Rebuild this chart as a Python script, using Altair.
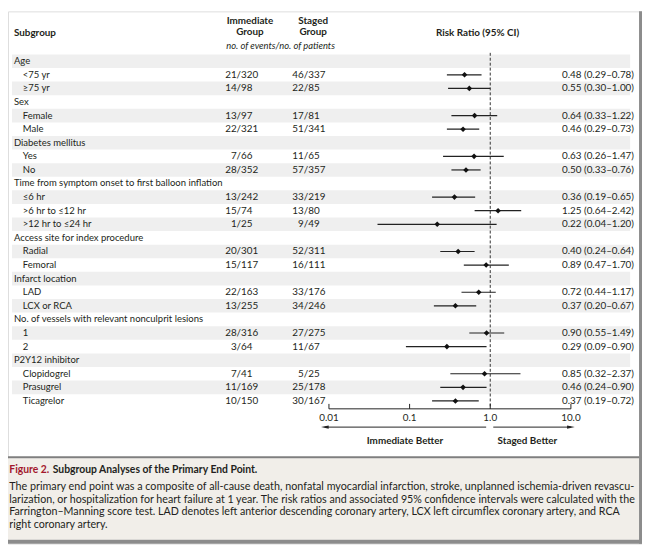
import altair as alt
import pandas as pd

# ---------------- data ----------------
groups = ["Age", "Sex", "Diabetes mellitus",
          "Time from symptom onset to first balloon inflation",
          "Access site for index procedure", "Infarct location",
          "No. of vessels with relevant nonculprit lesions", "P2Y12 inhibitor"]
group_sizes = [2, 2, 2, 3, 2, 2, 2, 3]
items = ["<75 yr", "≥75 yr", "Female", "Male", "Yes", "No",
         "≤6 hr", ">6 hr to ≤12 hr", ">12 hr to ≤24 hr",
         "Radial", "Femoral", "LAD", "LCX or RCA", "1", "2",
         "Clopidogrel", "Prasugrel", "Ticagrelor"]
imm_ev = [21, 14, 13, 22, 7, 28, 13, 15, 1, 20, 15, 22, 13, 28, 3, 7, 11, 10]
imm_n = [320, 98, 97, 321, 66, 352, 242, 74, 25, 301, 117, 163, 255, 316, 64, 41, 169, 150]
stg_ev = [46, 22, 17, 51, 11, 57, 33, 13, 9, 52, 16, 33, 34, 27, 11, 5, 25, 30]
stg_n = [337, 85, 81, 341, 65, 357, 219, 80, 49, 311, 111, 176, 246, 275, 67, 25, 178, 167]
rr = [0.48, 0.55, 0.64, 0.46, 0.63, 0.50, 0.36, 1.25, 0.22, 0.40, 0.89, 0.72, 0.37, 0.90, 0.29, 0.85, 0.46, 0.37]
lo = [0.29, 0.30, 0.33, 0.29, 0.26, 0.33, 0.19, 0.64, 0.04, 0.24, 0.47, 0.44, 0.20, 0.55, 0.09, 0.32, 0.24, 0.19]
hi = [0.78, 1.00, 1.22, 0.73, 1.47, 0.76, 0.65, 2.42, 1.20, 0.64, 1.70, 1.17, 0.67, 1.49, 0.90, 2.37, 0.90, 0.72]

tick_values = [0.01, 0.1, 1.0, 10.0]
tick_labels = ["0.01", "0.1", "1.0", "10.0"]
arrow_left = [0.0089, 0.89]
arrow_right = [1.09, 10.0]

caption_title = "Figure 2."
caption_subtitle = "Subgroup Analyses of the Primary End Point."
caption_lines = [
    "The primary end point was a composite of all-cause death, nonfatal myocardial infarction, stroke, unplanned ischemia-driven revascu-",
    "larization, or hospitalization for heart failure at 1 year. The risk ratios and associated 95% confidence intervals were calculated with the",
    "Farrington\u2013Manning score test. LAD denotes left anterior descending coronary artery, LCX left circumflex coronary artery, and RCA",
    "right coronary artery.",
]
caption_sizes = [10.9, 10.8, 10.8, 10.8]

# ---------------- tables ----------------
head_rows, item_rows = [], []
r = 0
k = 0
for g, n in zip(groups, group_sizes):
    head_rows.append({"row": r, "label": g})
    r += 1
    for _ in range(n):
        item_rows.append({
            "row": r, "label": items[k],
            "ie": str(imm_ev[k]), "in": "/" + str(imm_n[k]),
            "se": str(stg_ev[k]), "sn": "/" + str(stg_n[k]),
            "rr": rr[k], "lo": lo[k], "hi": hi[k],
            "txt": f"{rr[k]:.2f} ({lo[k]:.2f}\u2013{hi[k]:.2f})",
        })
        r += 1
        k += 1
nrows = r
heads = pd.DataFrame(head_rows)
its = pd.DataFrame(item_rows)
bands = pd.DataFrame({"row": list(range(0, nrows, 2))})
bands["y0"] = bands["row"] - 0.5
bands["y1"] = bands["row"] + 0.5

FONT = "Lato"
FS = 10
LFS = 9.6
DARK = "#231f20"

Y = alt.Scale(domain=[0, nrows - 1], range=[50.5, 394.5], zero=False, nice=False)
X = alt.Scale(type="log", domain=[0.01, 10], range=[325, 570], nice=False)


def ty(field="row"):
    return alt.Y(f"{field}:Q", scale=Y, axis=None)


def txt(s, x, y, size=FS, weight="normal", align="left", color=DARK, style="normal"):
    return alt.Chart(pd.DataFrame({"t": [s]})).mark_text(
        align=align, baseline="middle", font=FONT, fontSize=size,
        fontWeight=weight, color=color, fontStyle=style
    ).encode(x=alt.value(x), y=alt.value(y), text="t:N")


layers = []

# bands
layers.append(alt.Chart(bands).mark_rect(color="#efefef").encode(
    x=alt.value(4), x2=alt.value(630), y=ty("y0"), y2="y1:Q"))

# dashed line at 1
layers.append(alt.Chart(pd.DataFrame({"v": [1.0]})).mark_rule(
    color="#333", strokeDash=[3, 2], strokeWidth=1).encode(
    x=alt.X("v:Q", scale=X, axis=None), y=alt.value(42), y2=alt.value(402.5)))

# CI lines
layers.append(alt.Chart(its).mark_rule(color="#222", strokeWidth=1.2).encode(
    x=alt.X("lo:Q", scale=X, axis=None), x2="hi:Q", y=ty()))
# points
layers.append(alt.Chart(its).mark_point(shape="diamond", filled=True, color="#111", size=32, opacity=1).encode(
    x=alt.X("rr:Q", scale=X, axis=None), y=ty()))

# labels
lkw = dict(baseline="middle", font=FONT, fontSize=LFS, color=DARK)
tkw = dict(baseline="middle", font=FONT, fontSize=FS, color=DARK)
layers.append(alt.Chart(heads).mark_text(align="left", **lkw).encode(
    x=alt.value(6), y=ty(), text="label:N"))
layers.append(alt.Chart(its).mark_text(align="left", **lkw).encode(
    x=alt.value(15), y=ty(), text="label:N"))
layers.append(alt.Chart(its).mark_text(align="right", **tkw).encode(
    x=alt.value(231.5), y=ty(), text="ie:N"))
layers.append(alt.Chart(its).mark_text(align="left", **tkw).encode(
    x=alt.value(231.5), y=ty(), text="in:N"))
layers.append(alt.Chart(its).mark_text(align="right", **tkw).encode(
    x=alt.value(299.5), y=ty(), text="se:N"))
layers.append(alt.Chart(its).mark_text(align="left", **tkw).encode(
    x=alt.value(299.5), y=ty(), text="sn:N"))
layers.append(alt.Chart(its).mark_text(align="left", **tkw).encode(
    x=alt.value(561), y=ty(), text="txt:N"))

# column headers
layers += [
    txt("Subgroup", 6, 22, weight="bold"),
    txt("Immediate", 245, 9.5, weight="bold", align="center"),
    txt("Group", 245, 21, weight="bold", align="center"),
    txt("Staged", 309, 9.5, weight="bold", align="center"),
    txt("Group", 309, 21, weight="bold", align="center"),
    txt("no. of events/no. of patients", 276, 34.7, size=9.5, align="center", style="italic"),
    txt("Risk Ratio (95% CI)", 475.5, 22, weight="bold", align="center"),
]

# axis
ticks = pd.DataFrame({"v": tick_values, "lab": tick_labels})
layers.append(alt.Chart(pd.DataFrame({"a": [tick_values[0]], "b": [tick_values[-1]]})).mark_rule(
    color="#222", strokeWidth=1).encode(
    x=alt.X("a:Q", scale=X, axis=None), x2="b:Q", y=alt.value(402.5)))
layers.append(alt.Chart(ticks).mark_rule(color="#222", strokeWidth=1).encode(
    x=alt.X("v:Q", scale=X, axis=None), y=alt.value(397.5), y2=alt.value(402.5)))
layers.append(alt.Chart(ticks).mark_text(align="center", **tkw).encode(
    x=alt.X("v:Q", scale=X, axis=None), y=alt.value(412), text="lab:N"))

# arrows
arr = pd.DataFrame({"a": [arrow_left[1], arrow_right[0]], "b": [arrow_left[0], arrow_right[1]]})
layers.append(alt.Chart(arr).mark_rule(color="#222", strokeWidth=1).encode(
    x=alt.X("a:Q", scale=X, axis=None), x2="b:Q", y=alt.value(421)))
heads_df = pd.DataFrame({"v": [arrow_left[0], arrow_right[1]], "ang": [0, 180]})
layers.append(alt.Chart(heads_df).mark_point(
    shape="M-1,0L1,-0.45L1,0.45Z", filled=True, color="#222", size=60, opacity=1).encode(
    x=alt.X("v:Q", scale=X, axis=None), y=alt.value(421), angle=alt.Angle("ang:Q", scale=None)))
layers += [
    txt("Immediate Better", 402, 435, weight="bold", align="center"),
    txt("Staged Better", 526, 435, weight="bold", align="center"),
]

# caption box and frame
layers.append(alt.Chart(pd.DataFrame({"a": [0]})).mark_rect(color="#f1eee9").encode(
    x=alt.value(0), x2=alt.value(639), y=alt.value(452.5), y2=alt.value(535)))
layers.append(alt.Chart(pd.DataFrame({"a": [0]})).mark_rule(color="#7f7f7f", strokeWidth=2).encode(
    x=alt.value(0), x2=alt.value(642), y=alt.value(451.5)))
layers.append(alt.Chart(pd.DataFrame({"a": [0]})).mark_rule(color="#8c8c8c", strokeWidth=4).encode(
    x=alt.value(0), x2=alt.value(642), y=alt.value(537)))
layers.append(alt.Chart(pd.DataFrame({"a": [0]})).mark_rule(color="#8c8c8c", strokeWidth=3).encode(
    x=alt.value(640.5), y=alt.value(0), y2=alt.value(539)))

layers += [
    txt(caption_title, 1.3, 464, size=10.5, weight="bold", color="#a3182d"),
    txt(caption_subtitle, 45.3, 464, size=10.5, weight="bold"),
]
for i, (line, sz) in enumerate(zip(caption_lines, caption_sizes)):
    layers.append(txt(line, 1.3, 481.5 + 13 * i, size=sz))

chart = alt.layer(*layers).properties(
    width=642, height=539, padding=0, autosize="none"
).configure_view(stroke=None).configure(font=FONT)

chart.save("out.html", embed_options={"renderer": "svg", "actions": False})
